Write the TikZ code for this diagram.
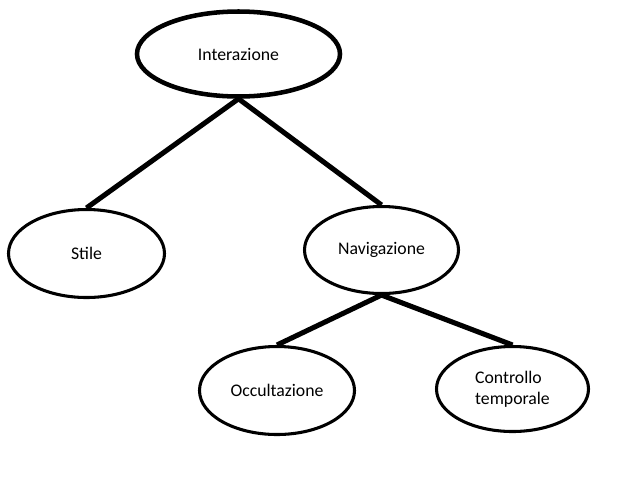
\documentclass[tikz,border=0pt]{standalone}
\usepackage{fontspec}
\setmainfont{Carlito}
\usetikzlibrary{shapes.geometric}
\begin{document}
\begin{tikzpicture}[x=0.75pt,y=-0.75pt,
  ell/.style={draw, ellipse, line width=2.3pt, inner sep=0pt, font=\fontsize{13.3}{15.8}\selectfont},
  conn/.style={line width=3.8pt}]
\useasboundingbox (0,0) rectangle (628,480);
\node[ell, line width=3.4pt, minimum width=203*0.75pt, minimum height=85*0.75pt] (int) at (238.5,54) {Interazione};
\node[ell, minimum width=156*0.75pt, minimum height=88*0.75pt] (sti) at (86.5,253.5) {Stile};
\node[ell, minimum width=154*0.75pt, minimum height=87*0.75pt] (nav) at (381.5,250) {Navigazione};
\node[ell, minimum width=155*0.75pt, minimum height=88*0.75pt] (occ) at (277,390.5) {Occultazione};
\node[ell, align=left, minimum width=152*0.75pt, minimum height=85*0.75pt] (con) at (512.5,389) {Controllo\\temporale};
\draw[conn] (int.south) -- (sti.north);
\draw[conn] (int.south) -- (nav.north);
\draw[conn] (nav.south) -- (occ.north);
\draw[conn] (nav.south) -- (con.north);
\end{tikzpicture}
\end{document}
